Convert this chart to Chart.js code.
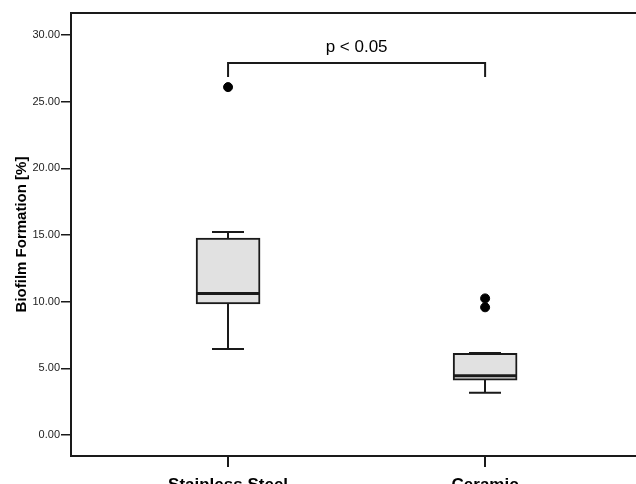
<!DOCTYPE html>
<html>
<head>
<meta charset="utf-8">
<script src="https://cdn.jsdelivr.net/npm/chart.js@4.4.1/dist/chart.umd.min.js"></script>
<style>
  html, body { margin: 0; padding: 0; background: #fff; overflow: hidden; }
  #wrap { width: 636px; height: 484px; overflow: hidden; }
</style>
</head>
<body>
<div id="wrap"><canvas id="boxChart" width="636" height="500"></canvas></div>
<script>
// groups and summary values
const categories = ['Stainless Steel', 'Ceramic'];
const whiskerMin = [6.45, 3.17];
const q1 = [9.83, 4.12];
const median = [10.62, 4.45];
const q3 = [14.78, 6.12];
const whiskerMax = [15.23, 6.15];
const outliers = [[26.1], [10.25, 9.58]];
const yTicks = [0, 5, 10, 15, 20, 25, 30];

const bracket = { from: 1, to: 2, top: 27.9, drop: 26.85, label: 'p < 0.05' };

const boxData = categories.map((c, i) => ({ x: i + 1, y: [q1[i], q3[i]] }));
const outlierData = [];
outliers.forEach((list, i) => list.forEach(v => outlierData.push({ x: i + 1, y: v })));

// whiskers, medians, top frame and the significance bracket
const boxExtras = {
    id: 'boxExtras',
    afterDatasetsDraw(chart) {
        const ctx = chart.ctx;
        const xs = chart.scales.x;
        const ys = chart.scales.y;
        const area = chart.chartArea;
        ctx.save();
        ctx.strokeStyle = '#1a1a1a';
        ctx.lineCap = 'butt';

        categories.forEach((c, i) => {
            const cx = Math.round(xs.getPixelForValue(i + 1));
            ctx.lineWidth = 2;
            ctx.beginPath();
            ctx.moveTo(cx, ys.getPixelForValue(q3[i]));
            ctx.lineTo(cx, ys.getPixelForValue(whiskerMax[i]));
            ctx.moveTo(cx, ys.getPixelForValue(q1[i]));
            ctx.lineTo(cx, ys.getPixelForValue(whiskerMin[i]));
            ctx.moveTo(cx - 16, ys.getPixelForValue(whiskerMax[i]));
            ctx.lineTo(cx + 16, ys.getPixelForValue(whiskerMax[i]));
            ctx.moveTo(cx - 16, ys.getPixelForValue(whiskerMin[i]));
            ctx.lineTo(cx + 16, ys.getPixelForValue(whiskerMin[i]));
            ctx.stroke();

            ctx.lineWidth = 3;
            ctx.beginPath();
            ctx.moveTo(cx - 32, ys.getPixelForValue(median[i]));
            ctx.lineTo(cx + 32, ys.getPixelForValue(median[i]));
            ctx.stroke();
        });

        // frame line on top of the plot
        ctx.lineWidth = 2;
        ctx.beginPath();
        ctx.moveTo(area.left, area.top);
        ctx.lineTo(area.right, area.top);
        ctx.stroke();

        // significance bracket
        const x1 = xs.getPixelForValue(bracket.from);
        const x2 = xs.getPixelForValue(bracket.to);
        const yt = ys.getPixelForValue(bracket.top);
        const yd = ys.getPixelForValue(bracket.drop);
        ctx.lineWidth = 2;
        ctx.beginPath();
        ctx.moveTo(x1, yd);
        ctx.lineTo(x1, yt);
        ctx.lineTo(x2, yt);
        ctx.lineTo(x2, yd);
        ctx.stroke();

        ctx.fillStyle = '#000';
        ctx.font = '17px "Liberation Sans", Arial, sans-serif';
        ctx.textAlign = 'center';
        ctx.textBaseline = 'alphabetic';
        ctx.fillText(bracket.label, (x1 + x2) / 2, yt - 11);
        ctx.restore();
    }
};

const ctx = document.getElementById('boxChart').getContext('2d');
new Chart(ctx, {
    data: {
        datasets: [{
            type: 'bar',
            data: boxData,
            backgroundColor: '#e1e1e1',
            borderColor: '#1a1a1a',
            borderWidth: 2,
            borderSkipped: false,
            barThickness: 64
        }, {
            type: 'scatter',
            data: outlierData,
            pointRadius: 4.5,
            pointBackgroundColor: '#000',
            pointBorderColor: '#000'
        }]
    },
    options: {
        responsive: false,
        animation: false,
        layout: { padding: { top: 13, right: 0, left: 0, bottom: 0 }, autoPadding: false },
        plugins: { legend: { display: false }, tooltip: { enabled: false } },
        scales: {
            x: {
                type: 'linear',
                offset: false,
                min: 0.389,
                max: 2.587,
                afterBuildTicks: (scale) => { scale.ticks = categories.map((c, i) => ({ value: i + 1 })); },
                afterFit: (scale) => { scale.height = 44; },
                ticks: {
                    callback: (v) => categories[v - 1],
                    color: '#000',
                    padding: 8,
                    maxRotation: 0,
                    font: { family: '"Liberation Sans", Arial, sans-serif', size: 17, weight: 'bold' }
                },
                grid: { offset: false, drawOnChartArea: false, drawTicks: true, tickLength: 11, color: '#1a1a1a', lineWidth: 2 },
                border: { color: '#1a1a1a', width: 2 }
            },
            y: {
                min: -1.575,
                max: 31.66,
                afterBuildTicks: (scale) => { scale.ticks = yTicks.map(v => ({ value: v })); },
                afterFit: (scale) => { scale.width = 71; },
                ticks: {
                    callback: (v) => v.toFixed(2),
                    color: '#222',
                    padding: 1,
                    font: { family: '"Liberation Sans", Arial, sans-serif', size: 11 }
                },
                grid: { drawOnChartArea: false, drawTicks: true, tickLength: 10, color: '#1a1a1a', lineWidth: 1.5 },
                border: { color: '#1a1a1a', width: 2 },
                title: {
                    display: true,
                    text: 'Biofilm Formation [%]',
                    color: '#000',
                    padding: { top: 13, bottom: 0 },
                    font: { family: '"Liberation Sans", Arial, sans-serif', size: 15, weight: 'bold' }
                }
            }
        }
    },
    plugins: [boxExtras]
});
</script>
</body>
</html>
